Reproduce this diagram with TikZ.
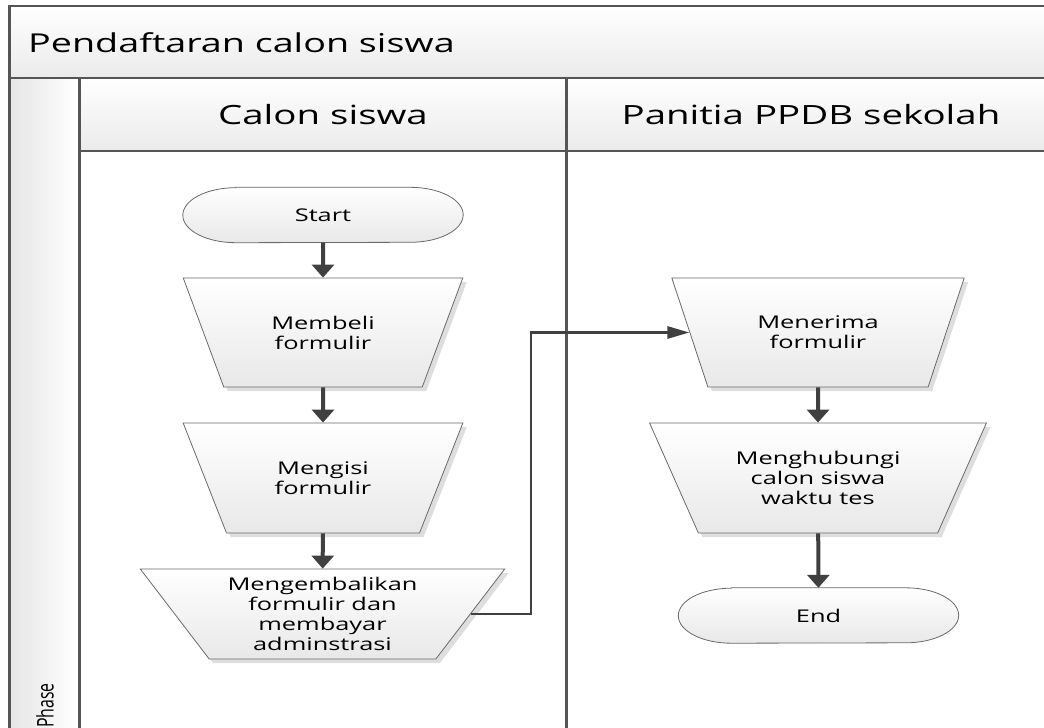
\documentclass[tikz,border=0pt]{standalone}
\usepackage{fontspec}
\setmainfont{Open Sans}
\newfontfamily\widefont[FakeStretch=1.45]{Open Sans}
\newfontfamily\tallfont[FakeStretch=0.69]{Open Sans}
\usetikzlibrary{shapes.geometric,arrows.meta,shadows,backgrounds,calc}
\definecolor{framegray}{HTML}{555555}
\definecolor{shapegray}{HTML}{6A6A6A}
\definecolor{arrowgray}{HTML}{404040}
\tikzset{
  hline/.style={draw=framegray, line width=2pt},
  vline/.style={draw=framegray, line width=3pt},
  band/.style={top color=white, bottom color=black!8},
  titletext/.style={inner sep=0pt, font=\widefont\fontsize{26}{30}\selectfont},
  lanetext/.style={inner sep=0pt, font=\widefont\fontsize{26.5}{30}\selectfont},
  proc/.style={trapezium, trapezium stretches=true, shape border rotate=180,
    draw=shapegray, line width=0.8pt, top color=white, bottom color=black!9,
    drop shadow={shadow xshift=4pt, shadow yshift=-4pt, fill=black!13, opacity=1},
    align=center, inner sep=1pt, font=\widefont\fontsize{17.5}{20}\selectfont},
  termtext/.style={minimum width=280pt, minimum height=55pt, inner sep=0pt,
    font=\widefont\fontsize{17.5}{20}\selectfont},
  termfill/.style={draw=shapegray, line width=0.8pt, top color=white, bottom color=black!9},
  termshadow/.style={fill=black!13, shift={(4,4)}},
  flow/.style={draw=arrowgray, line width=4pt, -{Triangle[length=13pt,width=22pt]}},
  conn/.style={draw=arrowgray, line width=2.6pt, -{Triangle[length=22pt,width=12pt]}},
}
% outline of a terminal (stadium with elliptic ends) round node #2
\newcommand\termshape[2]{%
  \path[#1] ($(#2.north west)+(53,0)$) -- ($(#2.north east)+(-53,0)$)
    arc[start angle=90, end angle=-90, x radius=53pt, y radius=27.5pt]
    -- ($(#2.south west)+(53,0)$)
    arc[start angle=270, end angle=90, x radius=53pt, y radius=27.5pt] -- cycle;}
\begin{document}
\begin{tikzpicture}[x=1pt, y=-1pt]
\useasboundingbox (0,0) rectangle (1044,728);
\clip (0,0) rectangle (1044,728);
% ---- swimlane frame ----
\begin{scope}[on background layer]
\fill[band] (9,6) rectangle (1044,78);
\fill[band] (79,78) rectangle (1044,151);
\fill[left color=black!10, right color=white] (9,78) rectangle (79,728);
\draw[hline] (9,6) -- (1044,6);
\draw[hline] (9,78) -- (1044,78);
\draw[hline] (79,151) -- (1044,151);
\draw[vline] (9,5) -- (9,728);
\draw[vline] (79,78) -- (79,728);
\draw[vline] (566,78) -- (566,728);
\end{scope}
\node[titletext, anchor=west] (pool) at (28,43) {Pendaftaran calon siswa};
\node[lanetext] (lane1) at (323,115) {Calon siswa};
\node[lanetext] (lane2) at (811,115) {Panitia PPDB sekolah};
\node[rotate=90, anchor=east, inner sep=0pt, font=\tallfont\fontsize{23}{24}\selectfont] (phase) at (45,683) {Phase};
% ---- nodes ----
\node[termtext] (start) at (323,215) {Start};
\node[proc, minimum width=280pt, minimum height=109pt, trapezium angle=58.8] (beli) at (323,332.5) {Membeli\\formulir};
\node[proc, minimum width=280pt, minimum height=110pt, trapezium angle=57.7] (isi) at (323,478) {Mengisi\\formulir};
\node[proc, minimum width=365pt, minimum height=90pt, trapezium angle=52.3] (kembali) at (322.5,614) {Mengembalikan\\formulir dan\\membayar\\adminstrasi};
\node[proc, minimum width=293pt, minimum height=109pt, trapezium angle=60] (terima) at (818,332.5) {Menerima\\formulir};
\node[proc, minimum width=337pt, minimum height=110pt, trapezium angle=58.5] (hubungi) at (818,478) {Menghubungi\\calon siswa\\waktu tes};
\node[termtext] (end) at (818.5,615.5) {End};
% terminal outlines, drawn under their text
\begin{scope}[on background layer]
  \termshape{termshadow}{start}
  \termshape{termfill}{start}
  \termshape{termshadow}{end}
  \termshape{termfill}{end}
\end{scope}
% ---- connectors ----
\draw[flow] (start) -- (beli);
\draw[flow] (beli) -- (isi);
\draw[flow] (isi) -- (kembali);
\draw[flow] (terima) -- (hubungi);
\draw[flow] (hubungi) -- (end);
\coordinate (bend) at (531,0);
\draw[conn] (kembali.east) -- (kembali.east -| bend) -- (terima.west -| bend) -- (terima.west);
\end{tikzpicture}
\end{document}
